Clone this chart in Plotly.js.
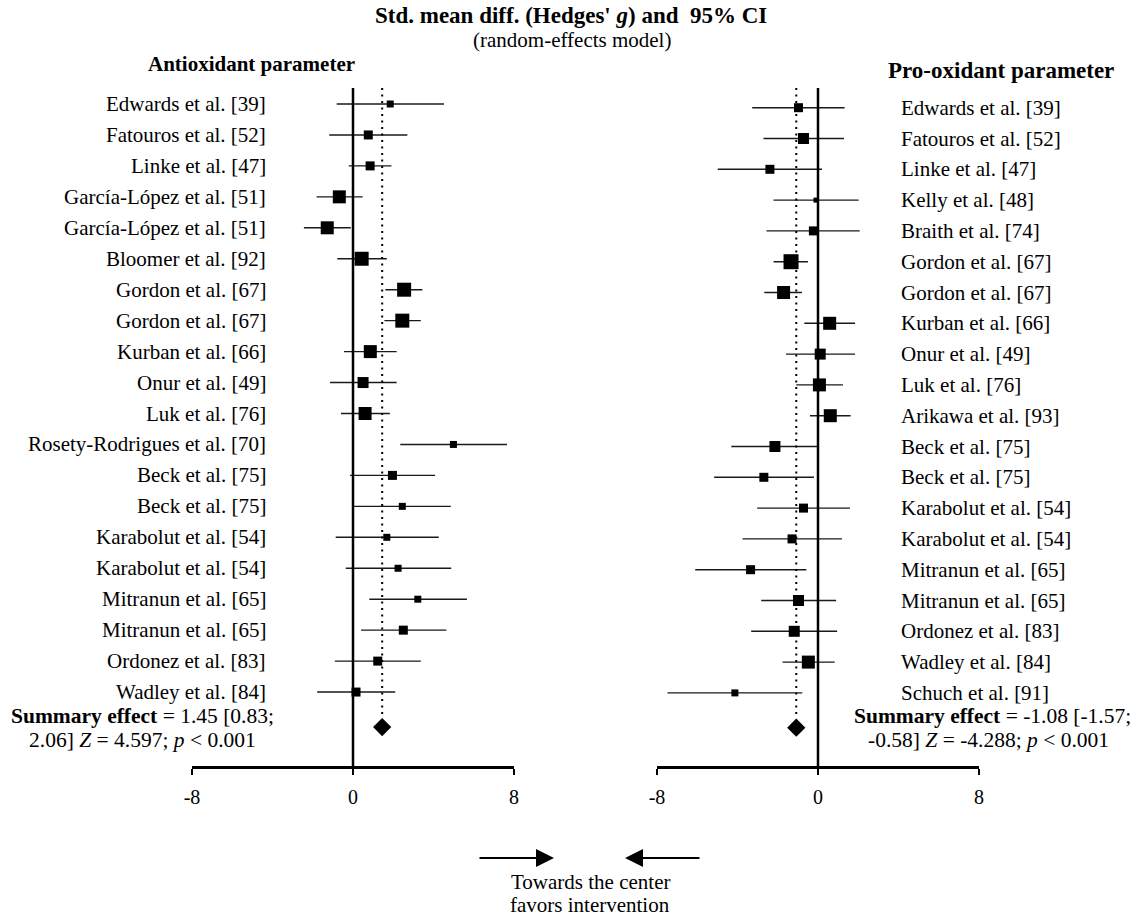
<!DOCTYPE html>
<html>
<head>
<meta charset="utf-8">
<script src="https://cdn.plot.ly/plotly-3.0.1.min.js"></script>
<style>html,body{margin:0;padding:0;background:#fff;}#chart{width:1145px;height:917px;}</style>
</head>
<body>
<div id="chart"></div>
<script>
// ---------- DATA ----------
const leftStudies = [
  "Edwards et al. [39]", "Fatouros et al. [52]", "Linke et al. [47]",
  "García-López et al. [51]", "García-López et al. [51]", "Bloomer et al. [92]",
  "Gordon et al. [67]", "Gordon et al. [67]", "Kurban et al. [66]",
  "Onur et al. [49]", "Luk et al. [76]", "Rosety-Rodrigues et al. [70]",
  "Beck et al. [75]", "Beck et al. [75]", "Karabolut et al. [54]",
  "Karabolut et al. [54]", "Mitranun et al. [65]", "Mitranun et al. [65]",
  "Ordonez et al. [83]", "Wadley et al. [84]"
];
const leftEst = [1.85, 0.76, 0.85, -0.68, -1.28, 0.43, 2.54, 2.45, 0.86, 0.50,
                 0.60, 4.99, 1.96, 2.45, 1.68, 2.24, 3.22, 2.50, 1.23, 0.15];
const leftLo  = [-0.81, -1.18, -0.21, -1.81, -2.44, -0.78, 1.61, 1.56, -0.45, -1.14,
                 -0.60, 2.35, -0.15, 0.02, -0.86, -0.36, 0.81, 0.40, -0.90, -1.78];
const leftHi  = [4.52, 2.70, 1.91, 0.48, -0.11, 1.68, 3.45, 3.37, 2.17, 2.17,
                 1.83, 7.65, 4.08, 4.86, 4.26, 4.88, 5.66, 4.64, 3.37, 2.10];
const leftWeight = [7, 9, 9, 13, 13, 14, 14, 14, 13, 11, 13, 7, 9, 7, 7, 7, 7, 9, 9, 9];

const rightStudies = [
  "Edwards et al. [39]", "Fatouros et al. [52]", "Linke et al. [47]",
  "Kelly et al. [48]", "Braith et al. [74]", "Gordon et al. [67]",
  "Gordon et al. [67]", "Kurban et al. [66]", "Onur et al. [49]",
  "Luk et al. [76]", "Arikawa et al. [93]", "Beck et al. [75]",
  "Beck et al. [75]", "Karabolut et al. [54]", "Karabolut et al. [54]",
  "Mitranun et al. [65]", "Mitranun et al. [65]", "Ordonez et al. [83]",
  "Wadley et al. [84]", "Schuch et al. [91]"
];
const rightEst = [-0.97, -0.72, -2.39, -0.10, -0.23, -1.34, -1.71, 0.58, 0.11, 0.07,
                  0.61, -2.14, -2.69, -0.72, -1.29, -3.35, -0.97, -1.18, -0.48, -4.13];
const rightLo  = [-3.27, -2.71, -4.98, -2.21, -2.56, -2.21, -2.67, -0.68, -1.59, -1.08,
                  -0.40, -4.31, -5.16, -3.02, -3.75, -6.10, -2.82, -3.32, -1.76, -7.48];
const rightHi  = [1.32, 1.29, 0.20, 2.02, 2.07, -0.50, -0.80, 1.84, 1.84, 1.24,
                  1.62, -0.02, -0.20, 1.59, 1.19, -0.58, 0.90, 0.95, 0.83, -0.78];
const rightWeight = [9, 11, 9, 5, 9, 15, 13, 13, 11, 13, 13, 11, 9, 9, 9, 9, 11, 11, 13, 7];

const panelTitles = ["Antioxidant parameter", "Pro-oxidant parameter"];
const summaryEst = [1.45, -1.08];
const summaryLo  = ["0.83", "-1.57"];
const summaryHi  = ["2.06", "-0.58"];
const summaryZ   = ["4.597", "-4.288"];
const summaryP   = ["&lt; 0.001", "&lt; 0.001"];
const tickVals = [-8, 0, 8];
const tickText = ["-8", "0", "8"];

// ---------- LAYOUT HELPERS ----------
const W = 1145, H = 917;
const px = v => v / W;             // pixel x -> paper
const py = v => 1 - v / H;         // pixel y -> paper
const FONT = "Liberation Serif, Times New Roman, serif";
const AXIS_Y = 767;
const SUMMARY_ROW_OFFSET = 1.13;
const MARKER_SCALE = 1;

function forestTraces(est, lo, hi, w, xa, ya, k) {
  const rows = est.map((_, i) => i + 1);
  return [{
    type: "scatter", mode: "markers", xaxis: xa, yaxis: ya,
    x: est, y: rows,
    marker: { symbol: "square", color: "#000", opacity: 1, size: w.map(v => v * MARKER_SCALE), line: { width: 0 } },
    error_x: {
      type: "data", symmetric: false,
      array: hi.map((h, i) => h - est[i]),
      arrayminus: lo.map((l, i) => est[i] - l),
      width: 0, thickness: 1.4, color: "#1a1a1a"
    },
    hoverinfo: "skip", showlegend: false, cliponaxis: false
  }, {
    type: "scatter", mode: "markers", xaxis: xa, yaxis: ya,
    x: [summaryEst[k]],
    y: [est.length + SUMMARY_ROW_OFFSET],
    marker: { symbol: "diamond", color: "#000", opacity: 1, size: 14, line: { width: 0 } },
    hoverinfo: "skip", showlegend: false, cliponaxis: false
  }];
}

const data = [
  ...forestTraces(leftEst, leftLo, leftHi, leftWeight, "x", "y", 0),
  ...forestTraces(rightEst, rightLo, rightHi, rightWeight, "x2", "y2", 1)
];

const xAxisCommon = {
  range: [-8, 8], anchor: "free", position: 1 - AXIS_Y / H,
  showline: true, linecolor: "#000", linewidth: 2.5,
  ticks: "outside", ticklen: 6, tickwidth: 2.5, tickcolor: "#000",
  tickvals: tickVals, ticktext: tickText, ticklabelstandoff: 5,
  tickfont: { family: FONT, size: 20, color: "#000" },
  showgrid: false, zeroline: false, fixedrange: true
};

const annotations = [];
function txt(text, x, y, size, anchor) {
  annotations.push({ text: text, xref: "paper", yref: "paper", x: px(x), y: py(y),
    xanchor: anchor || "center", yanchor: "middle", showarrow: false,
    font: { family: FONT, size: size, color: "#000" } });
}
// study labels
leftStudies.forEach((s, i) => annotations.push({
  text: s, xref: "paper", x: px(268), xanchor: "right", yref: "y", y: i + 1, yanchor: "middle",
  showarrow: false, font: { family: FONT, size: 21, color: "#000" }
}));
rightStudies.forEach((s, i) => annotations.push({
  text: s, xref: "paper", x: px(899), xanchor: "left", yref: "y2", y: i + 1, yanchor: "middle",
  showarrow: false, font: { family: FONT, size: 21, color: "#000" }
}));
// titles
txt("<b>Std. mean diff. (Hedges' <i>g</i>) and  95% CI</b>", 571, 16, 23);
txt("(random-effects model)", 572, 40, 21);
txt("<b>" + panelTitles[0] + "</b>", 251, 64, 21);
txt("<b>" + panelTitles[1] + "</b>", 1001, 70, 23);
// summaries
function summaryLines(k) {
  return [
    "<b>Summary effect</b> = " + summaryEst[k].toFixed(2) + " [" + summaryLo[k] + ";",
    summaryHi[k] + "] <i>Z</i> = " + summaryZ[k] + "; <i>p</i> " + summaryP[k]
  ];
}
const sl = summaryLines(0), sr = summaryLines(1);
txt(sl[0], 142, 716, 21.5);
txt(sl[1], 142, 740, 21.5);
txt(sr[0], 992, 716, 21.5);
txt(sr[1], 989, 740, 21.5);
// arrows
annotations.push({ text: "", xref: "paper", yref: "paper", x: px(554), y: py(858),
  ax: -76, ay: 0, showarrow: true, arrowhead: 2, arrowsize: 1.8, arrowwidth: 2, arrowcolor: "#000" });
annotations.push({ text: "", xref: "paper", yref: "paper", x: px(625), y: py(858),
  ax: 76, ay: 0, showarrow: true, arrowhead: 2, arrowsize: 1.8, arrowwidth: 2, arrowcolor: "#000" });
txt("Towards the center", 590, 882, 21);
txt("favors intervention", 590, 905, 21);

const shapes = [];
[["x", 0], ["x2", 1]].forEach(([xr, k]) => {
  shapes.push({ type: "line", xref: xr, yref: "paper", x0: 0, x1: 0, y0: py(88), y1: py(AXIS_Y),
    line: { color: "#000", width: 2.5 } });
  shapes.push({ type: "line", xref: xr, yref: "paper", x0: summaryEst[k], x1: summaryEst[k],
    y0: py(88), y1: py(714), line: { color: "#000", width: 2, dash: "2px,4.5px" } });
});

const layout = {
  width: W, height: H,
  margin: { l: 0, r: 0, t: 0, b: 0 },
  paper_bgcolor: "#fff", plot_bgcolor: "rgba(0,0,0,0)",
  showlegend: false,
  xaxis: Object.assign({}, xAxisCommon, { domain: [px(192), px(514)] }),
  xaxis2: Object.assign({}, xAxisCommon, { domain: [px(657), px(979)] }),
  yaxis: { domain: [0, 1], range: [27.268, -2.3603], visible: false, fixedrange: true, anchor: "x" },
  yaxis2: { domain: [0, 1], range: [27.276, -2.4968], visible: false, fixedrange: true, overlaying: "y", anchor: "x2" },
  annotations: annotations,
  shapes: shapes,
  font: { family: FONT, color: "#000" }
};

Plotly.newPlot("chart", data, layout, { staticPlot: true, displayModeBar: false });
</script>
</body>
</html>
